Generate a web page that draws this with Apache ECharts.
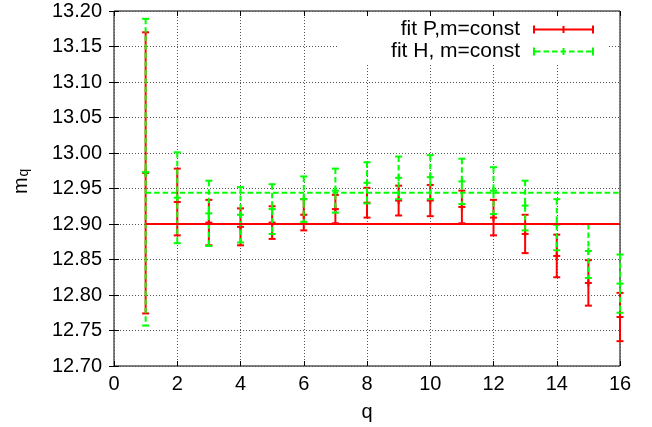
<!DOCTYPE html>
<html><head><meta charset="utf-8">
<script src="https://cdn.jsdelivr.net/npm/echarts@6/dist/echarts.min.js"></script>
<style>html,body{margin:0;padding:0;background:#fff}#c{width:652px;height:427px}</style>
</head><body><div id="c"></div>
<script>
// ---- data ----
const qValues = [1, 2, 3, 4, 5, 6, 7, 8, 9, 10, 11, 12, 13, 14, 15, 16];
const pMean = [12.972, 12.931, 12.902, 12.896, 12.902, 12.913, 12.921, 12.930, 12.933, 12.933, 12.924, 12.909, 12.886, 12.855, 12.817, 12.769];
const pErr  = [0.198, 0.047, 0.032, 0.026, 0.023, 0.022, 0.020, 0.021, 0.021, 0.022, 0.023, 0.025, 0.027, 0.030, 0.032, 0.034];
const hMean = [12.973, 12.937, 12.915, 12.913, 12.921, 12.935, 12.947, 12.958, 12.965, 12.966, 12.960, 12.947, 12.926, 12.899, 12.862, 12.816];
const hErr  = [0.216, 0.064, 0.046, 0.039, 0.035, 0.032, 0.031, 0.029, 0.030, 0.031, 0.032, 0.033, 0.035, 0.036, 0.038, 0.041];
const fitP = 12.900;
const fitH = 12.944;
const seriesNames = ['fit P,m=const', 'fit H, m=const'];
const xTicks = [0, 2, 4, 6, 8, 10, 12, 14, 16];
const yTicks = ['12.70','12.75','12.80','12.85','12.90','12.95','13.00','13.05','13.10','13.15','13.20'];

// ---- styles ----
const RED = '#ff0000', GREEN = '#00ff00';
const FONT = '"Liberation Sans", Arial, Helvetica, sans-serif';
const DASH = [5.5, 3];

function errRender(color, dash) {
  return function (params, api) {
    const x = api.value(0), m = api.value(1), e = api.value(2);
    const t = api.coord([x, m + e]), b = api.coord([x, m - e]), c = api.coord([x, m]);
    const cap = 3.5, lw = 2;
    const st = {stroke: color, lineWidth: lw, fill: null, lineDash: dash || null};
    const solid = {stroke: color, lineWidth: lw, fill: null};
    return {type: 'group', children: [
      {type: 'line', shape: {x1: t[0], y1: t[1], x2: b[0], y2: b[1]}, style: st},
      {type: 'line', shape: {x1: t[0] - cap, y1: t[1], x2: t[0] + cap, y2: t[1]}, style: solid},
      {type: 'line', shape: {x1: b[0] - cap, y1: b[1], x2: b[0] + cap, y2: b[1]}, style: solid},
      {type: 'line', shape: {x1: c[0] - cap, y1: c[1], x2: c[0] + cap, y2: c[1]}, style: solid},
      {type: 'line', shape: {x1: c[0], y1: c[1] - cap, x2: c[0], y2: c[1] + cap}, style: solid}
    ]};
  };
}

function iconPath(dashed) {
  let p = 'path://M0 0h2v8h-2z M59 0h2v8h-2z M29.5 0.5h2v7h-2z ';
  if (!dashed) {
    p += 'M0 3h61v2h-61z';
  } else {
    for (let x = 2; x < 59; x += 8.5) {
      const w = Math.min(5.5, 59 - x);
      p += 'M' + x + ' 3h' + w + 'v2h-' + w + 'z ';
    }
  }
  return p;
}

const pData = qValues.map((q, i) => [q, pMean[i], pErr[i]]);
const hData = qValues.map((q, i) => [q, hMean[i], hErr[i]]);
const qMin = qValues[0], qMax = qValues[qValues.length - 1];

const chart = echarts.init(document.getElementById('c'), null, {renderer: 'canvas'});
chart.setOption({
  animation: false,
  backgroundColor: '#fff',
  grid: {left: 114, right: 32, top: 11, bottom: 58, show: true, borderColor: '#000', borderWidth: 1, backgroundColor: 'transparent'},
  legend: {
    orient: 'vertical', align: 'right', right: 45, top: 12,
    padding: [7, 13, 1, 54], itemGap: 1, itemWidth: 61, itemHeight: 8,
    backgroundColor: '#fff', selectedMode: false,
    textStyle: {fontFamily: FONT, fontSize: 21, color: '#000', padding: [0, 8, 0, 0]},
    data: [
      {name: seriesNames[0], icon: iconPath(false), itemStyle: {color: RED}},
      {name: seriesNames[1], icon: iconPath(true), itemStyle: {color: GREEN}}
    ]
  },
  xAxis: [{
    type: 'value', min: xTicks[0], max: xTicks[xTicks.length - 1], interval: 2,
    name: 'q', nameLocation: 'middle', nameGap: 36,
    nameTextStyle: {fontFamily: FONT, fontSize: 20, color: '#000'},
    axisLine: {show: false},
    axisTick: {show: true, inside: true, length: 5, lineStyle: {color: '#000'}},
    axisLabel: {fontFamily: FONT, fontSize: 20, color: '#000', margin: 8},
    splitLine: {show: true, lineStyle: {color: '#555', type: [1, 2], width: 1}}
  }, {
    type: 'value', position: 'top', min: xTicks[0], max: xTicks[xTicks.length - 1], interval: 2, z: 6,
    axisLine: {show: false}, axisLabel: {show: false}, splitLine: {show: false},
    axisTick: {show: true, inside: true, length: 5, lineStyle: {color: '#000'}}
  }],
  yAxis: [{
    type: 'value', min: Number(yTicks[0]), max: Number(yTicks[yTicks.length - 1]), interval: 0.05,
    axisLine: {show: false},
    axisTick: {show: true, inside: true, length: 5, lineStyle: {color: '#000'}},
    axisLabel: {fontFamily: FONT, fontSize: 20, color: '#000', margin: 12, formatter: v => v.toFixed(2)},
    splitLine: {show: true, lineStyle: {color: '#555', type: [1, 2], width: 1}}
  }, {
    type: 'value', position: 'right', min: Number(yTicks[0]), max: Number(yTicks[yTicks.length - 1]), interval: 0.05, z: 6,
    axisLine: {show: false}, axisLabel: {show: false}, splitLine: {show: false},
    axisTick: {show: true, inside: true, length: 5, lineStyle: {color: '#000'}}
  }],
  graphic: [
    {type: 'text', x: 21, y: 194, rotation: Math.PI / 2, z: 10,
     style: {text: 'm', font: '20px ' + FONT, fill: '#000', textAlign: 'left', textVerticalAlign: 'middle'}},
    {type: 'text', x: 24, y: 176.5, rotation: Math.PI / 2, z: 10,
     style: {text: 'q', font: '14px ' + FONT, fill: '#000', textAlign: 'left', textVerticalAlign: 'middle'}}
  ],
  series: [
    {name: seriesNames[0], type: 'custom', xAxisIndex: 0, yAxisIndex: 0, itemStyle: {color: RED},
     renderItem: errRender(RED, null), data: pData, encode: {x: 0, y: 1}, z: 2},
    {name: seriesNames[1], type: 'custom', xAxisIndex: 0, yAxisIndex: 0, itemStyle: {color: GREEN},
     renderItem: errRender(GREEN, DASH), data: hData, encode: {x: 0, y: 1}, z: 2},
    {name: 'fitP-line', type: 'line', xAxisIndex: 0, yAxisIndex: 0, showSymbol: false, symbol: 'none',
     data: [[qMin, fitP], [qMax, fitP]], lineStyle: {color: RED, width: 2}, z: 3},
    {name: 'fitH-line', type: 'line', xAxisIndex: 0, yAxisIndex: 0, showSymbol: false, symbol: 'none',
     data: [[qMin, fitH], [qMax, fitH]], lineStyle: {color: GREEN, width: 2, type: DASH}, z: 3}
  ]
});
</script>
</body></html>
